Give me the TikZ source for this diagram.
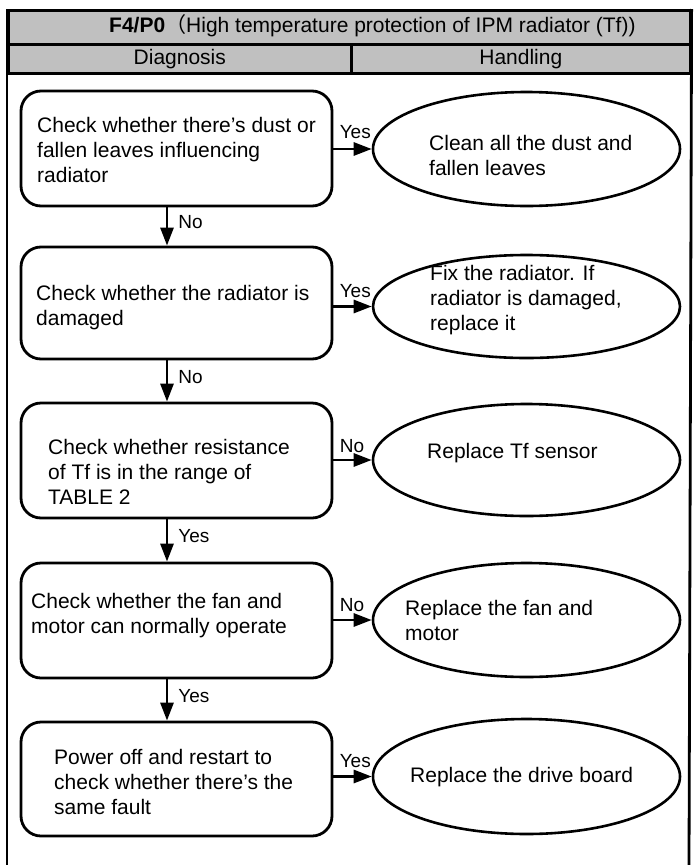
\documentclass[tikz,border=0pt]{standalone}
\usepackage{fontspec}
\setmainfont{Liberation Sans}
\newfontfamily\cjkfont{Noto Sans CJK SC}
\usetikzlibrary{arrows.meta,shapes.geometric}
\definecolor{hdrgray}{RGB}{192,192,192}
\begin{document}
\begin{tikzpicture}[x=1pt,y=-1pt,
  box/.style={draw, line width=2.8pt, rounded corners=20pt, minimum width=311pt, inner sep=0pt},
  oval/.style={draw, ellipse, line width=2.6pt, minimum width=307pt, inner sep=0pt},
  txt/.style={anchor=west, align=left, inner sep=0pt, font=\fontsize{21}{25}\selectfont},
  lbl/.style={inner sep=0pt, font=\fontsize{19}{22}\selectfont},
  arr/.style={line width=2.8pt, -{Triangle[length=18pt,width=13pt]}},
  hdr/.style={draw, line width=2.6pt, fill=hdrgray, inner sep=0pt, anchor=north west, font=\fontsize{21}{25}\selectfont}
]
\useasboundingbox (0,0) rectangle (696,865);

% header
\node[hdr, minimum width=682pt, minimum height=34pt] (title) at (7,9) {};
\node[hdr, minimum width=343pt, minimum height=29pt] (diag) at (7,43) {Diagnosis};
\node[hdr, minimum width=339pt, minimum height=29pt] (hand) at (350,43) {Handling};
\node[txt] (ttl) at (109,26) {\textbf{F4/P0}{\cjkfont （}High temperature protection of IPM radiator (Tf))};
\coordinate (fl) at (7,865);
\coordinate (fr) at (689,865);
\draw[line width=2.8pt] (title.north west) -- (fl);
\draw[line width=2.8pt] (title.north east) -- (fr);

% diagnosis boxes
\node[box, minimum height=115pt] (b1) at (176.5,148.5) {};
\node[box, minimum height=112pt] (b2) at (176.5,303) {};
\node[box, minimum height=115pt] (b3) at (176.5,460.5) {};
\node[box, minimum height=115pt] (b4) at (176.5,620.5) {};
\node[box, minimum height=114pt] (b5) at (176.5,779) {};

\node[txt] (b1t) at (37,150) {Check whether there’s dust or\\fallen leaves influencing\\radiator};
\node[txt] (b2t) at (36,308) {Check whether the radiator is\\damaged};
\node[txt] (b3t) at (48,472) {Check whether resistance\\of Tf is in the range of\\TABLE 2};
\node[txt] (b4t) at (31,616) {Check whether the fan and\\motor can normally operate};
\node[txt] (b5t) at (54,782) {Power off and restart to\\check whether there’s the\\same fault};

% handling ellipses
\node[oval, minimum height=114pt] (e1) at (526.5,149) {};
\node[oval, minimum height=103pt] (e2) at (526.5,306.5) {};
\node[oval, minimum height=112pt] (e3) at (526.5,460) {};
\node[oval, minimum height=114pt] (e4) at (526.5,620) {};
\node[oval, minimum height=115pt] (e5) at (526.5,776.5) {};

\node[txt] (e1t) at (429,155) {Clean all the dust and\\fallen leaves};
\node[txt] (e2t) at (430,300) {Fix the radiator. If\\radiator is damaged,\\replace it};
\node[txt] (e3t) at (427,453) {Replace Tf sensor};
\node[txt] (e4t) at (405,620) {Replace the fan and\\motor};
\node[txt] (e5t) at (410,777) {Replace the drive board};

% horizontal connectors
\draw[arr] (e1.west -| b1.east) -- node[lbl, anchor=base west, pos=0, xshift=5pt, yshift=11pt] (y1) {Yes} (e1.west);
\draw[arr] (e2.west -| b2.east) -- node[lbl, anchor=base west, pos=0, xshift=5pt, yshift=9pt] (y2) {Yes} (e2.west);
\draw[arr] (e3.west -| b3.east) -- node[lbl, anchor=base west, pos=0, xshift=5pt, yshift=8pt] (n3) {No} (e3.west);
\draw[arr] (e4.west -| b4.east) -- node[lbl, anchor=base west, pos=0, xshift=5pt, yshift=9pt] (n4) {No} (e4.west);
\draw[arr] (e5.west -| b5.east) -- node[lbl, anchor=base west, pos=0, xshift=5pt, yshift=9pt] (y5) {Yes} (e5.west);

% vertical connectors
\coordinate (ax) at (167,0);
\draw[arr] (b1.south -| ax) -- node[lbl, anchor=west, pos=0.5, xshift=10pt, yshift=4pt] (n12) {No} (b2.north -| ax);
\draw[arr] (b2.south -| ax) -- node[lbl, anchor=west, pos=0.5, xshift=10pt, yshift=4pt] (n23) {No} (b3.north -| ax);
\draw[arr] (b3.south -| ax) -- node[lbl, anchor=west, pos=0.5, xshift=10pt, yshift=4pt] (y34) {Yes} (b4.north -| ax);
\draw[arr] (b4.south -| ax) -- node[lbl, anchor=west, pos=0.5, xshift=10pt, yshift=4pt] (y45) {Yes} (b5.north -| ax);
\end{tikzpicture}
\end{document}
